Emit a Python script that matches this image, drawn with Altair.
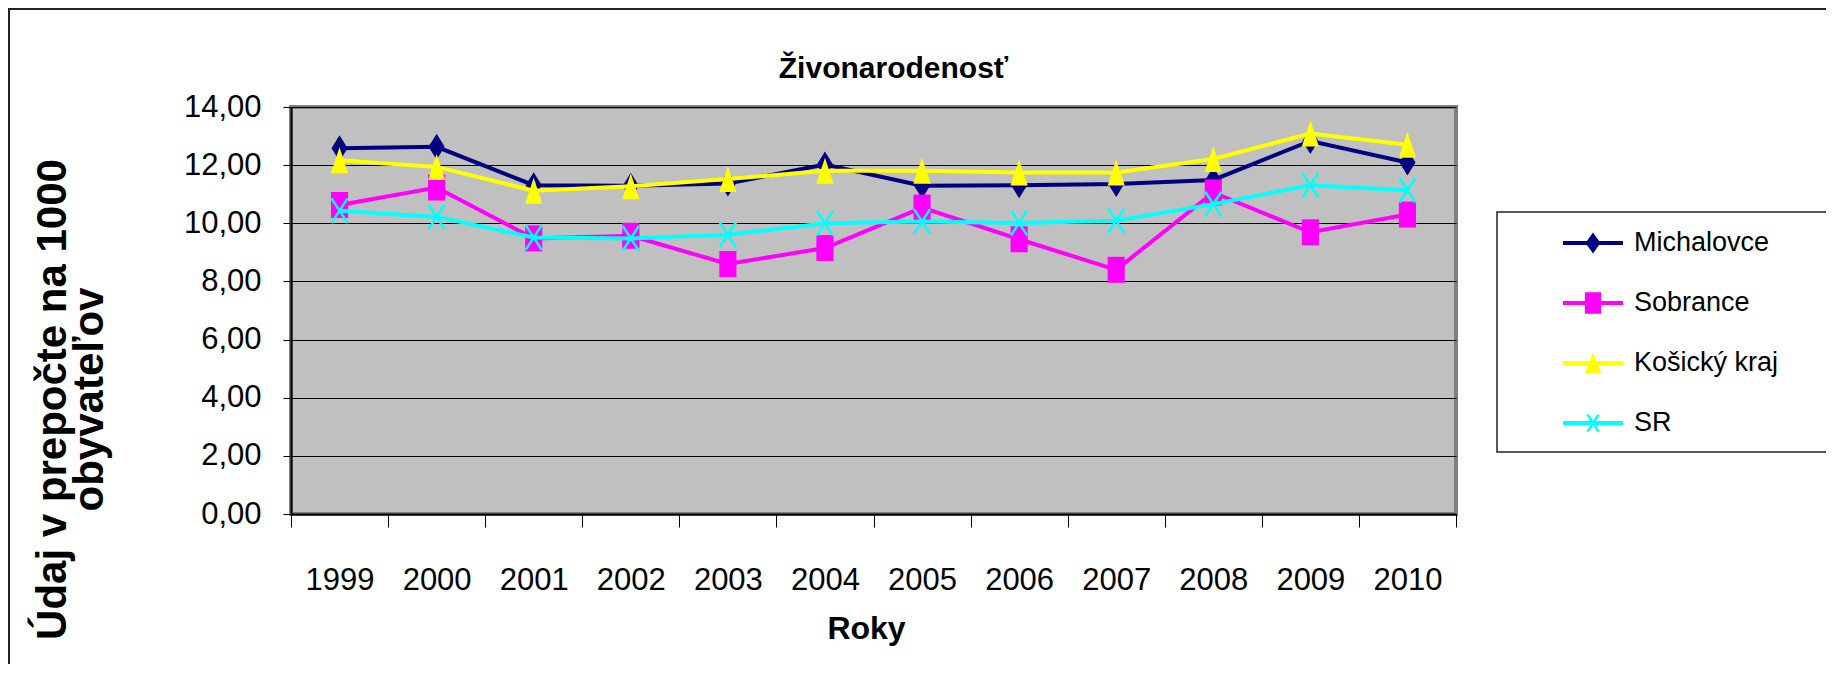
import altair as alt
import pandas as pd

# ---- data ----
years = ["1999", "2000", "2001", "2002", "2003", "2004",
         "2005", "2006", "2007", "2008", "2009", "2010"]
series_names = ["Michalovce", "Sobrance", "Košický kraj", "SR"]
michalovce = [12.58, 12.63, 11.31, 11.29, 11.37, 12.02, 11.29, 11.31, 11.35, 11.49, 12.83, 12.09]
sobrance = [10.63, 11.23, 9.48, 9.57, 8.60, 9.15, 10.54, 9.45, 8.40, 11.06, 9.69, 10.30]
kosicky_kraj = [12.17, 11.94, 11.12, 11.27, 11.52, 11.81, 11.81, 11.75, 11.75, 12.21, 13.09, 12.70]
sr = [10.43, 10.22, 9.51, 9.48, 9.61, 10.00, 10.06, 10.01, 10.09, 10.66, 11.31, 11.14]
y_ticks = [0, 2, 4, 6, 8, 10, 12, 14]

chart_title = "Živonarodenosť"
x_title = "Roky"
y_title = ["Údaj v prepočte na 1000", "obyvateľov"]

# ---- styles ----
series_colors = ["#000080", "#FF00FF", "#FFFF00", "#00FFFF"]
marker_paths = [
    "M0,-1L0.62,0L0,1L-0.62,0Z",
    "M-0.66,-1L0.66,-1L0.66,1L-0.66,1Z",
    "M0,-1L0.66,1L-0.66,1Z",
    "M-0.62,-0.95L0.62,0.95M0.62,-0.95L-0.62,0.95",
]
bar = "M-1,-0.065L1,-0.065L1,0.065L-1,0.065Z "
legend_paths = [
    bar + "M0,-0.35L0.25,0L0,0.35L-0.25,0Z",
    bar + "M-0.27,-0.36L0.27,-0.36L0.27,0.36L-0.27,0.36Z",
    bar + "M0,-0.36L0.27,0.34L-0.27,0.34Z",
    bar + "M-0.23,-0.28L-0.13,-0.28L0.23,0.28L0.13,0.28Z M0.13,-0.28L0.23,-0.28L-0.13,0.28L-0.23,0.28Z",
]

NARROW = "Liberation Sans Narrow, Arial Narrow, Liberation Sans, Arial"
REG = "Liberation Sans, Arial"

rows = []
for name, vals in zip(series_names, [michalovce, sobrance, kosicky_kraj, sr]):
    for yr, v in zip(years, vals):
        rows.append({"year": yr, "series": name, "value": v})
df = pd.DataFrame(rows)

x_enc = alt.X(
    "year:O",
    sort=years,
    bandPosition=0.5,
    scale=alt.Scale(type="band", domain=years, paddingInner=0, paddingOuter=0),
    axis=alt.Axis(
        title=x_title, titleFont=NARROW, titleFontWeight="bold", titleFontSize=32,
        titleColor="black", titleX=575, titleY=99, titleBaseline="top",
        labelFont=NARROW, labelFontSize=31, labelColor="black", labelPadding=38,
        labelAngle=0, tickSize=13, tickBand="extent", tickColor="black", tickWidth=1,
        domainColor="black", domainWidth=2, grid=False,
    ),
)
y_enc = alt.Y(
    "value:Q",
    scale=alt.Scale(domain=[0, 14], nice=False, zero=True),
    axis=alt.Axis(
        values=y_ticks,
        labelExpr="replace(format(datum.value, '.2f'), '.', ',')",
        labelFont=NARROW, labelFontSize=31, labelColor="black", labelPadding=22,
        tickSize=8, tickColor="black", tickWidth=1,
        domainColor="black", domainWidth=2,
        grid=True, gridColor="black", gridWidth=1, gridOpacity=1,
        title=y_title, titleFont=REG, titleFontWeight="bold", titleFontSize=42,
        titleColor="black", titleAngle=270, titleX=-259, titleY=292,
        titleAlign="center", titleBaseline="top", titleLineHeight=37,
    ),
)

base = alt.Chart(df)
layers = []

# legend frame (decoration)
frame_df = pd.DataFrame({"k": [0]})
legend_box = alt.Chart(frame_df).mark_rect(fill="white", stroke="#222222", strokeWidth=1.5).encode(
    x=alt.value(1206), x2=alt.value(1538), y=alt.value(105), y2=alt.value(345))

for name, col, path in zip(series_names, series_colors, marker_paths):
    sub = base.transform_filter(alt.datum.series == name)
    layers.append(sub.mark_line(color=col, strokeWidth=4).encode(x=x_enc, y=y_enc))
    if name == "SR":
        pts = sub.mark_point(shape=path, size=676, filled=False, color=col,
                             strokeWidth=2.5, opacity=1)
    else:
        pts = sub.mark_point(shape=path, size=676, filled=True, color=col, opacity=1)
    layers.append(pts.encode(x=x_enc, y=y_enc))

leg = alt.Legend(
    title=None, orient="none", legendX=1206, legendY=106, direction="vertical",
    padding=0, symbolOffset=66, symbolSize=3600, symbolStrokeWidth=0,
    symbolOpacity=1, labelOffset=11, labelFont=NARROW, labelFontSize=27,
    labelColor="black", labelLimit=500, rowPadding=17,
)
legend_layer = base.transform_filter("false").mark_point(filled=True, opacity=1).encode(
    x=x_enc, y=y_enc,
    color=alt.Color("series:N", scale=alt.Scale(domain=series_names, range=series_colors), legend=leg),
    shape=alt.Shape("series:N", scale=alt.Scale(domain=series_names, range=legend_paths), legend=leg),
)

border_left = alt.Chart(frame_df).mark_rule(color="#222222", strokeWidth=2).encode(
    x=alt.value(-282), y=alt.value(-99), y2=alt.value(560))
border_top = alt.Chart(frame_df).mark_rule(color="#222222", strokeWidth=2).encode(
    y=alt.value(-98), x=alt.value(-283), x2=alt.value(1540))

chart = alt.layer(legend_box, *layers, legend_layer, border_left, border_top).properties(
    width=1165, height=407,
    title=alt.TitleParams(
        text=chart_title, font=REG, fontWeight="bold", fontSize=30, color="black",
        anchor="middle", frame="group", dx=20, dy=101, offset=0, baseline="alphabetic",
    ),
    autosize=alt.AutoSizeParams(type="none"),
    padding={"left": 283, "top": 99, "right": 370, "bottom": 150},
    background="white",
).configure_view(fill="#C0C0C0", stroke="#808080", strokeWidth=4)

chart.save("out.html", embed_options={"renderer": "svg", "actions": False})
